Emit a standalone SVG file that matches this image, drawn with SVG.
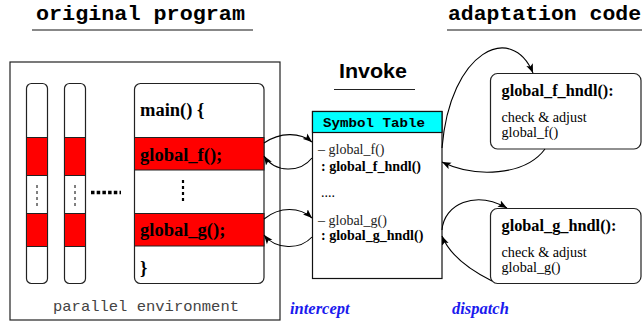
<svg xmlns="http://www.w3.org/2000/svg" width="642" height="325" viewBox="0 0 642 325">
<defs>
<marker id="ah" markerWidth="10" markerHeight="8" refX="9" refY="4" orient="auto" markerUnits="userSpaceOnUse">
<path d="M0,0.5 L9,4 L0,7.5 L2,4 Z" fill="#000"/>
</marker>
<style>
.mono{font-family:"Liberation Mono","Courier New",monospace}
.serif{font-family:"Liberation Serif","Times New Roman",serif}
.box{fill:#fff;stroke:#222;stroke-width:1.2}
.red{fill:#ff0000;stroke:#222;stroke-width:1}
.conn{fill:none;stroke:#000;stroke-width:1.1;marker-end:url(#ah)}
.ul{stroke:#888;stroke-width:2}
.dot{stroke:#000;stroke-width:1;stroke-dasharray:3 3}
</style>
</defs>
<rect width="642" height="325" fill="#fff"/>

<g id="title-original">
<text x="36" y="20" class="mono" font-size="20.5" font-weight="bold" textLength="209" lengthAdjust="spacingAndGlyphs">original program</text>
<line x1="32" y1="30" x2="253" y2="30" class="ul"/>
</g>
<g id="title-adaptation">
<text x="448" y="20" class="mono" font-size="20.5" font-weight="bold" textLength="193" lengthAdjust="spacingAndGlyphs">adaptation code</text>
<line x1="447" y1="30" x2="642" y2="30" class="ul"/>
</g>

<g id="parallel-environment">
<rect x="10" y="62" width="270" height="258" fill="#fff" stroke="#222" stroke-width="1.2"/>
<text x="53" y="311" class="mono" font-size="15" fill="#444" textLength="186" lengthAdjust="spacingAndGlyphs">parallel environment</text>
</g>

<g id="thread-1">
<rect x="26.5" y="83.5" width="21" height="200" rx="5" class="box"/>
<rect x="26.5" y="137.5" width="21" height="38" class="red"/>
<rect x="26.5" y="213.5" width="21" height="33" class="red"/>
<line x1="37" y1="185" x2="37" y2="208" class="dot"/>
</g>
<g id="thread-2">
<rect x="64.5" y="83.5" width="21" height="200" rx="5" class="box"/>
<rect x="64.5" y="137.5" width="21" height="38" class="red"/>
<rect x="64.5" y="213.5" width="21" height="33" class="red"/>
<line x1="75" y1="185" x2="75" y2="208" class="dot"/>
</g>
<g id="more-threads">
<line x1="91" y1="192.5" x2="121" y2="192.5" stroke="#000" stroke-width="3.5" stroke-dasharray="3.5 2.2"/>
</g>

<g id="main-program">
<rect x="134.5" y="83.5" width="129.5" height="200" rx="6" class="box"/>
<rect x="134.5" y="137.5" width="129.5" height="32.5" class="red"/>
<rect x="134.5" y="213.5" width="129.5" height="32.5" class="red"/>
<text x="140" y="116" class="serif" font-size="18.5" font-weight="bold">main() {</text>
<text x="140" y="161" class="serif" font-size="18.5" font-weight="bold">global_f();</text>
<line x1="183" y1="180" x2="183" y2="204" stroke="#000" stroke-width="2.2" stroke-dasharray="3 3"/>
<text x="140" y="236" class="serif" font-size="18.5" font-weight="bold">global_g();</text>
<text x="140" y="274" class="serif" font-size="18.5" font-weight="bold">}</text>
</g>

<g id="invoke-label">
<text x="373" y="78" font-family="Liberation Sans, Arial, sans-serif" font-size="20" font-weight="bold" text-anchor="middle" textLength="68" lengthAdjust="spacingAndGlyphs">Invoke</text>
<line x1="334" y1="89.5" x2="415" y2="89.5" stroke="#222" stroke-width="1.2"/>
</g>

<g id="symbol-table">
<rect x="312.5" y="111.5" width="129.5" height="167" fill="#fff" stroke="#111" stroke-width="1.2"/>
<rect x="312.5" y="111.5" width="129.5" height="21" fill="#00ffff" stroke="#111" stroke-width="1.2"/>
<text x="323" y="126.5" class="mono" font-size="13.5" font-weight="bold" textLength="102" lengthAdjust="spacingAndGlyphs">Symbol Table</text>
<text x="318" y="154" class="serif" font-size="14" fill="#222">– global_f()</text>
<text x="321" y="171" class="serif" font-size="14" font-weight="bold">: global_f_hndl()</text>
<text x="321" y="197" class="serif" font-size="14">....</text>
<text x="318" y="224.5" class="serif" font-size="14" fill="#222">– global_g()</text>
<text x="321" y="240" class="serif" font-size="14" font-weight="bold">: global_g_hndl()</text>
</g>

<g id="global-f-hndl">
<rect x="490.5" y="73.5" width="150.5" height="75.5" rx="7" class="box"/>
<text x="501.5" y="95.5" class="serif" font-size="16.3" font-weight="bold">global_f_hndl():</text>
<text x="501.5" y="122" class="serif" font-size="14.2">check &amp; adjust</text>
<text x="501.5" y="136.5" class="serif" font-size="14.2">global_f()</text>
</g>

<g id="global-g-hndl">
<rect x="490.5" y="208.5" width="150.5" height="75" rx="7" class="box"/>
<text x="501.5" y="230.5" class="serif" font-size="16.3" font-weight="bold">global_g_hndl():</text>
<text x="501.5" y="257" class="serif" font-size="14.2">check &amp; adjust</text>
<text x="501.5" y="271.5" class="serif" font-size="14.2">global_g()</text>
</g>

<g id="labels">
<text x="290" y="314" class="serif" font-size="16.5" font-weight="bold" font-style="italic" fill="#1a1aee">intercept</text>
<text x="452" y="314" class="serif" font-size="16.5" font-weight="bold" font-style="italic" fill="#1a1aee">dispatch</text>
</g>

<g id="connectors">
<path class="conn" d="M264,143 C280,132 300,132 312,142"/>
<path class="conn" d="M312,158 C300,173 275,173 264,156"/>
<path class="conn" d="M264,219 C280,206 300,207 312,218"/>
<path class="conn" d="M312,237 C300,250 276,250 264,235"/>
<path class="conn" d="M442,148 C450,50 512,22 533,73"/>
<path class="conn" d="M545,149 C525,176 475,178 442,162"/>
<path class="conn" d="M442,230 C444,204 475,190 507,208"/>
<path class="conn" d="M492,281 C470,270 450,256 442,236"/>
</g>
</svg>
